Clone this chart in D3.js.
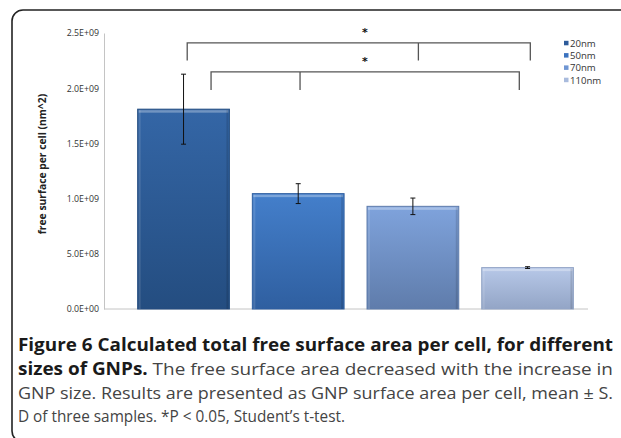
<!DOCTYPE html>
<html>
<head>
<meta charset="utf-8">
<script src="https://cdn.jsdelivr.net/npm/d3@7"></script>
<style>
  html, body { margin: 0; padding: 0; background: #fff; }
  svg { display: block; }
</style>
</head>
<body>
<div id="chart"></div>
<script>
// values
var categories = ["20nm", "50nm", "70nm", "110nm"];
var means = [1.81e9, 1.045e9, 0.93e9, 0.375e9];
var sds = [0.317e9, 0.09e9, 0.075e9, 0.008e9];
var yTicks = [0, 5e8, 1e9, 1.5e9, 2e9, 2.5e9];
var yTitle = "free surface per cell (nm^2)";
var brackets = [
    { left: "20nm", mid: "70nm", right: "110nm", top: 2.41e9, drop: 2.25e9, label: "*" },
    { left: "20nm", mid: "50nm", right: "110nm", top: 2.147e9, drop: 1.984e9, label: "*" }
];
var captionLines = [
    [{ t: "Figure 6 Calculated total free surface area per cell, for different", b: true }],
    [{ t: "sizes of GNPs.", b: true }, { t: " The free surface area decreased with the increase in", b: false }],
    [{ t: "GNP size. Results are presented as GNP surface area per cell, mean \u00b1 S.", b: false }],
    [{ t: "D of three samples. *P < 0.05, Student\u2019s t-test.", b: false }]
];

var fills = [
    ["#3466a6", "#244d80"],
    ["#447fcb", "#2f5fa0"],
    ["#7fa3dc", "#5f7cab"],
    ["#b7c8e8", "#93a5c6"]
];
var legendFill = ["#2d5b9a", "#3b72bf", "#6f96d3", "#a9bbdd"];

var W = 621, H = 438;

var svg = d3.select("#chart").append("svg")
    .attr("width", W)
    .attr("height", H);

var defs = svg.append("defs");
fills.forEach(function(f, i) {
    var g = defs.append("linearGradient")
        .attr("id", "bar" + i)
        .attr("x1", 0).attr("y1", 0).attr("x2", 0).attr("y2", 1);
    g.append("stop").attr("offset", "0%").attr("stop-color", f[0]);
    g.append("stop").attr("offset", "100%").attr("stop-color", f[1]);
});

// frame
svg.append("rect")
    .attr("x", 12).attr("y", 10)
    .attr("width", 700).attr("height", 432)
    .attr("rx", 11)
    .attr("fill", "none")
    .attr("stroke", "#222")
    .attr("stroke-width", 1.6);

var y = d3.scaleLinear()
    .domain([0, 2.5e9])
    .range([309, 33]);

var x = d3.scaleBand()
    .domain(categories)
    .range([126.2, 584.9])
    .paddingInner(0.2)
    .paddingOuter(0.1);

var fmt = function(v) {
    var s = d3.format(".1e")(v);
    var p = s.split("e");
    var e = +p[1];
    return p[0] + "E" + (e < 0 ? "-" : "+") + (Math.abs(e) < 10 ? "0" : "") + Math.abs(e);
};

// y axis
var yAxis = d3.axisLeft(y)
    .tickValues(yTicks)
    .tickFormat(fmt)
    .tickSize(0)
    .tickPadding(5);

var gy = svg.append("g")
    .attr("transform", "translate(104,0)")
    .call(yAxis);
gy.select(".domain").attr("stroke", "#c4c4c4");
gy.selectAll("text")
    .attr("font-family", "Open Sans, sans-serif")
    .attr("font-size", 8.8)
    .attr("fill", "#333");

// baseline
svg.append("line")
    .attr("x1", 104).attr("x2", 588)
    .attr("y1", y(0)).attr("y2", y(0))
    .attr("stroke", "#c4c4c4");

svg.append("text")
    .attr("transform", "translate(46,164) rotate(-90)")
    .attr("text-anchor", "middle")
    .attr("font-family", "Open Sans, sans-serif")
    .attr("font-weight", "bold")
    .attr("font-size", 10.3)
    .attr("fill", "#222")
    .text(yTitle);

// bars
var bars = svg.append("g");
categories.forEach(function(c, i) {
    var bx = x(c), bw = x.bandwidth(), by = y(means[i]), bh = y(0) - y(means[i]);
    bars.append("rect")
        .attr("x", bx).attr("y", by)
        .attr("width", bw).attr("height", bh)
        .attr("fill", "url(#bar" + i + ")")
        .attr("stroke", fills[i][1])
        .attr("stroke-width", 1);
    // bevel highlight
    bars.append("rect")
        .attr("x", bx + 1).attr("y", by + 1)
        .attr("width", bw - 2).attr("height", 2.5)
        .attr("fill", "#fff").attr("opacity", 0.3);
    bars.append("rect")
        .attr("x", bx + bw - 3).attr("y", by + 1)
        .attr("width", 2).attr("height", bh - 1)
        .attr("fill", "#000").attr("opacity", 0.12);
    bars.append("rect")
        .attr("x", bx + 1).attr("y", by + 1)
        .attr("width", 2).attr("height", bh - 1)
        .attr("fill", "#fff").attr("opacity", 0.12);
});

// error bars
var err = svg.append("g").attr("stroke", "#111").attr("stroke-width", 1);
categories.forEach(function(c, i) {
    var cx = x(c) + x.bandwidth() / 2;
    var y1 = y(means[i] + sds[i]), y2 = y(means[i] - sds[i]);
    err.append("line").attr("x1", cx).attr("x2", cx).attr("y1", y1).attr("y2", y2);
    err.append("line").attr("x1", cx - 2.5).attr("x2", cx + 2.5).attr("y1", y1).attr("y2", y1);
    err.append("line").attr("x1", cx - 2.5).attr("x2", cx + 2.5).attr("y1", y2).attr("y2", y2);
});

// significance brackets
var bPos = [
    { l: 0.54, m: 0.56, r: 0.53 },
    { l: 0.80, m: 0.52, r: 0.41 }
];
var br = svg.append("g");
brackets.forEach(function(b, i) {
    var xl = x(b.left) + x.bandwidth() * bPos[i].l;
    var xm = x(b.mid) + x.bandwidth() * bPos[i].m;
    var xr = x(b.right) + x.bandwidth() * bPos[i].r;
    var yt = y(b.top), yd = y(b.drop);
    br.append("path")
        .attr("d", "M" + xl + "," + yd + "V" + yt + "H" + xr + "V" + yd + "M" + xm + "," + yt + "V" + yd)
        .attr("fill", "none")
        .attr("stroke", "#555")
        .attr("stroke-width", 1.3);
    br.append("text")
        .attr("x", 365)
        .attr("y", yt - 6.5)
        .attr("text-anchor", "middle")
        .attr("font-family", "DejaVu Sans, sans-serif")
        .attr("font-weight", "bold")
        .attr("font-size", 11)
        .attr("fill", "#111")
        .text(b.label);
});

// legend
var lg = svg.append("g");
categories.forEach(function(c, i) {
    var ly = 43.3 + i * 12.3;
    lg.append("rect")
        .attr("x", 564).attr("y", ly - 2.5)
        .attr("width", 4.5).attr("height", 4.5)
        .attr("fill", legendFill[i]);
    lg.append("text")
        .attr("x", 570).attr("y", ly + 3.4)
        .attr("font-family", "Open Sans, sans-serif")
        .attr("font-size", 9.6)
        .attr("fill", "#333")
        .text(c);
});

// caption
var capY = [351, 375, 399, 422];
var capW = [595, 595, 595, 327];
captionLines.forEach(function(line, i) {
    var t = svg.append("text")
        .attr("x", 18)
        .attr("y", capY[i])
        .attr("font-family", "Open Sans, sans-serif")
        .attr("font-size", 17)
        .attr("textLength", capW[i])
        .attr("lengthAdjust", "spacingAndGlyphs");
    line.forEach(function(seg) {
        t.append("tspan")
            .attr("font-weight", seg.b ? "bold" : "normal")
            .attr("fill", seg.b ? "#1a1a1a" : "#444")
            .text(seg.t);
    });
});
</script>
</body>
</html>
